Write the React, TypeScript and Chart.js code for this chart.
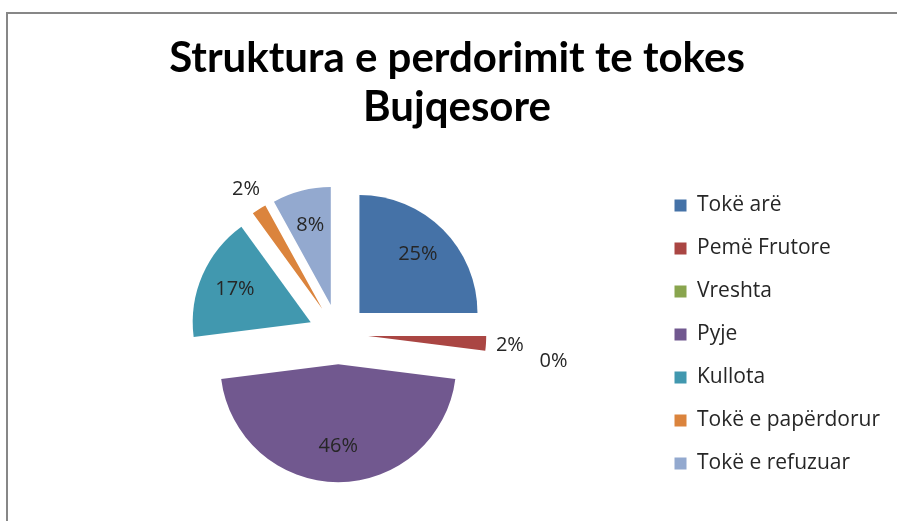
import React, { useEffect, useRef } from 'react';
import { Chart, registerables } from 'chart.js';

Chart.register(...registerables);

const categories = ['Tokë arë', 'Pemë Frutore', 'Vreshta', 'Pyje', 'Kullota', 'Tokë e papërdorur', 'Tokë e refuzuar'];
const values = [25, 2, 0, 46, 17, 2, 8];
const colors = ['#4572A7', '#AA4643', '#89A54E', '#71588F', '#4198AF', '#DB843D', '#93A9CF'];
const titleLines = ['Struktura e perdorimit te tokes', 'Bujqesore'];

const EXPLODE = 30; // explode distance of every slice (px)
const RADIUS = 118;

const total = values.reduce((a, b) => a + b, 0);

// Move each slice outward along its own bisector (Excel-style "exploded" pie)
const explodePlugin = {
  id: 'explodeSlices',
  afterDatasetUpdate(chart: any, args: any) {
    const meta = chart.getDatasetMeta(args.index);
    meta.data.forEach((arc: any) => {
      const mid = (arc.startAngle + arc.endAngle) / 2;
      arc.x += Math.cos(mid) * EXPLODE;
      arc.y += Math.sin(mid) * EXPLODE;
    });
  },
};

const pctLabels = {
  id: 'pctLabels',
  afterDatasetsDraw(chart: any) {
    const ctx = chart.ctx;
    const meta = chart.getDatasetMeta(0);
    const placed: number[][] = [];
    ctx.save();
    ctx.font = '20px "Open Sans"';
    ctx.fillStyle = '#262626';
    ctx.textAlign = 'center';
    ctx.textBaseline = 'middle';
    meta.data.forEach((arc: any, i: number) => {
      const p = arc.getProps(['x', 'y', 'startAngle', 'endAngle', 'outerRadius'], true);
      const mid = (p.startAngle + p.endAngle) / 2;
      const pct = Math.round((values[i] / total) * 100);
      let d = pct >= 5 ? p.outerRadius * 0.7 : p.outerRadius + 24;
      let px = p.x + Math.cos(mid) * d;
      let py = p.y + Math.sin(mid) * d;
      let guard = 0;
      while (placed.some((q) => Math.hypot(q[0] - px, q[1] - py) < 36) && guard < 5) {
        d += 45;
        px = p.x + Math.cos(mid) * d;
        py = p.y + Math.sin(mid) * d;
        guard++;
      }
      placed.push([px, py]);
      ctx.fillText(pct + '%', px, py);
    });
    ctx.restore();
  },
};

export default function App() {
  const ref = useRef<HTMLCanvasElement>(null);
  useEffect(() => {
    if (!ref.current) return;
    const chart = new Chart(ref.current, {
      type: 'pie',
      data: {
        labels: categories,
        datasets: [
          {
            data: values,
            backgroundColor: colors,
            borderWidth: 0,
            clip: false as any,
          } as any,
        ],
      },
      options: {
        animation: false,
        responsive: true,
        maintainAspectRatio: false,
        radius: RADIUS,
        layout: { padding: { left: 24, right: 7, top: 0, bottom: 25 } },
        plugins: {
          tooltip: { enabled: false },
          title: {
            display: true,
            text: titleLines,
            color: '#000',
            font: { family: 'Lato', size: 42, weight: 'bold', lineHeight: 1.17 },
            padding: { top: 33.5, bottom: 40.5 },
          },
          legend: {
            position: 'right',
            align: 'end',
            labels: {
              boxWidth: 12,
              boxHeight: 12,
              padding: 22,
              color: '#262626',
              font: { family: 'Open Sans', size: 21 },
            },
          },
        },
      } as any,
      plugins: [explodePlugin, pctLabels],
    });
    return () => chart.destroy();
  }, []);

  return (
    <div style={{ position: 'absolute', left: 0, top: 0, width: 897, height: 521, overflow: 'hidden', background: '#fff' }}>
      <div
        style={{
          position: 'absolute',
          left: 6,
          top: 12,
          width: 1000,
          height: 1000,
          borderLeft: '2px solid #878787',
          borderTop: '2px solid #878787',
        }}
      />
      <div style={{ position: 'absolute', left: 0, top: 0, width: 897, height: 521 }}>
        <canvas ref={ref} />
      </div>
    </div>
  );
}
